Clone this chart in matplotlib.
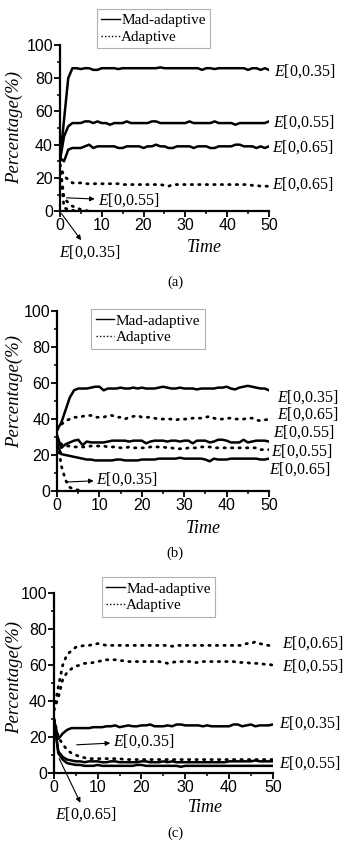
import matplotlib
matplotlib.use("Agg")
import matplotlib.pyplot as plt
from matplotlib.lines import Line2D
from matplotlib.ticker import MultipleLocator

plt.rcParams["mathtext.fontset"] = "custom"
plt.rcParams["mathtext.rm"] = "Liberation Serif"
plt.rcParams["mathtext.it"] = "Liberation Serif:italic"

time = list(range(51))

# ---- panel (a) ----
a_mad_35 = [30, 55, 80, 86, 86, 85.5, 86, 86, 85, 85, 86, 86, 86, 86, 85.5, 86, 86, 86, 86, 86, 86, 86, 86, 86, 86.5, 86,
            86, 86, 86, 86, 86, 86, 86, 86, 85, 86, 86, 85.5, 86, 86, 86, 86, 86, 86, 86, 85, 86, 86, 85, 86, 85]
a_mad_55 = [30, 45, 51, 53, 53, 53, 54, 54, 53, 54, 53, 53, 52, 53, 53, 53, 54, 53, 53, 53, 53, 53, 54, 54, 53, 53,
            53, 53, 53, 53, 53, 54, 53, 53, 53, 53, 53, 54, 53, 53, 53, 53, 52, 53, 53, 53, 53, 53, 53, 53, 54]
a_mad_65 = [32, 30, 37, 38, 38, 38, 39, 40, 38, 39, 39, 39, 39, 39, 38, 38, 39, 39, 39, 39, 38, 39, 39, 40, 39, 39,
            38, 38, 39, 39, 39, 39, 38, 39, 39, 39, 38, 38, 39, 39, 39, 39, 40, 40, 39, 39, 39, 38, 39, 38, 39]
a_ad_65 = [28, 21, 19, 17, 17, 17, 16.5, 16.5, 16.5, 16.5, 16.5, 16.5, 16.5, 16.5, 16.5, 16, 16, 16, 16, 16, 16, 16,
           16, 16, 16, 15.5, 15, 16, 16, 16, 16, 16, 16, 16, 16, 16, 16, 16, 16, 16, 16, 16, 16, 16, 16, 16, 15.5,
           15.5, 15, 15, 15]
# these two fall onto the x axis and stay there (hidden by the axis line)
a_ad_55 = [28, 8, 5, 3, 2, 1, 0.5, 0]
a_ad_35 = [28, 2, 1, 0.5, 0]

# ---- panel (b) ----
b_mad_35 = [34, 38, 45, 52, 56, 57, 57, 57, 57.5, 58, 58, 56, 57, 57, 57, 57.5, 57, 57, 57.5, 57, 57.5, 57, 57, 57,
            57.5, 58, 57.5, 57, 57, 57.5, 57, 57, 57, 56.5, 57, 57, 57, 57, 57.5, 57.5, 58, 57, 56.5, 57.5, 58, 58.5,
            58, 57.5, 57, 57, 56]
b_ad_65 = [34, 37, 39, 40, 41, 41, 41.5, 42, 42, 41, 41, 41, 42, 42, 41, 41, 40, 41, 41.5, 42, 41, 41, 41, 40.5, 40,
           40, 40, 40, 39.5, 40, 40, 40, 40.5, 40.5, 40.5, 41, 41.5, 40.5, 40, 40, 40.5, 40.5, 40, 40, 40, 40.5, 40.5,
           39.5, 39, 39.5, 40]
b_mad_55 = [31, 24, 26, 27, 28, 28.5, 25.5, 27.5, 27, 27, 27, 27, 27.5, 28, 28, 28, 28, 27.5, 28, 28, 28, 26.5, 27.5,
            28, 28, 28, 27.5, 28, 28, 27.5, 28, 28, 26.5, 28, 28, 28, 27, 27.5, 28.5, 28.5, 28, 27, 27, 27, 28.5, 27,
            27.5, 28, 28, 28, 27.5]
b_ad_55 = [30, 26, 25, 25, 24.5, 24.5, 24.5, 24.5, 25, 25, 25, 25, 24.5, 24.5, 24.5, 24, 24, 24.5, 24, 24, 24, 24,
           24.5, 24.5, 24.5, 24.5, 24, 24, 23.5, 23.5, 23.5, 24, 24, 24, 24.5, 24.5, 24.5, 24, 24, 24, 24, 24, 24, 24,
           24, 24, 24, 24, 23, 23, 23]
b_mad_65 = [26, 20.5, 20, 19.5, 19, 18.5, 18, 17.5, 17.5, 17, 17, 17, 17, 17, 17.5, 17.5, 17, 17, 17, 17, 17.5, 17.5,
            17.5, 17.5, 18, 18, 18, 18, 18, 18.5, 18, 18, 18, 18, 18, 17.5, 16.5, 18, 17.5, 17.5, 17.5, 18, 18, 18,
            18, 18, 18, 18, 17.5, 17.5, 18]
b_ad_35 = [30, 14, 6, 2, 1, 0.5, 0]

# ---- panel (c) ----
c_ad_65 = [35, 48, 60, 66, 68, 70, 70.5, 71, 71, 71.5, 72, 71.5, 71, 71, 71, 71, 71, 71, 71, 71, 71, 71, 71, 71, 71,
           71, 71, 70.5, 71, 71, 71, 71, 71, 71, 71, 71, 71, 71, 71, 71, 71, 71, 71, 71, 72, 72, 73, 72, 71.5, 71,
           70.5]
c_ad_55 = [35, 42, 52, 56, 58, 59.5, 60, 61, 61, 61.5, 62, 62.5, 63, 63, 63, 62.5, 62.5, 62, 62, 62, 62, 62, 62, 62,
           62, 61.5, 61, 61.5, 62, 62, 62, 62, 61.5, 61.5, 62, 62, 62, 62, 62, 62, 62, 62, 61.5, 61.5, 61.5, 61, 61,
           61, 60.5, 60.5, 60]
c_mad_35 = [30, 19, 22, 24, 25, 25, 25, 25, 25, 25.5, 25.5, 25.5, 26, 26, 26.5, 25.5, 26, 26.5, 26, 26, 26.5, 26.5,
            27, 26, 26, 26, 26.5, 26, 27, 27, 26.5, 26.5, 26.5, 26.5, 26, 26.5, 26, 26, 26, 26, 26, 27, 27, 26, 26.5,
            27, 26, 26.5, 26.5, 26.5, 27]
c_ad_35 = [30, 20, 16, 13, 11, 10, 9, 8.5, 8, 8, 8, 8, 8, 8, 8, 8, 7.5, 7.5, 7.5, 7.5, 7.5, 7.5, 7.5, 7.5, 7.5, 7.5,
           7.5, 7.5, 7.5, 7.5, 7.5, 7.5, 7.5, 7.5, 7.5, 7.5, 7.5, 7.5, 7.5, 7.5, 7.5, 7.5, 7.5, 7.5, 7.5, 7.5, 7.5,
           7.5, 7.5, 7.5, 7.5]
c_mad_55 = [30, 12, 9, 7.5, 7, 6.5, 6.5, 6, 6.5, 6.5, 6.5, 6, 6, 6.5, 6.5, 6, 6, 6, 6, 6, 6.5, 6.5, 6, 6, 6, 6.5, 6,
            6.5, 6, 6, 6, 6, 6, 6, 6, 6, 6, 6, 6, 6, 6.5, 6.5, 6.5, 6.5, 6.5, 6.5, 7, 6.5, 6.5, 6.5, 6.5]
c_mad_65 = [30, 11, 7.5, 5.5, 5, 4.5, 4.5, 4, 4, 4, 4.5, 4, 4, 4, 4, 4, 4, 4, 4, 4.5, 4.5, 4, 4, 4, 4, 4, 4, 4, 4,
            3.5, 4, 4, 4, 4, 4, 4, 4, 4, 4, 4, 4, 4, 4, 4, 4, 4, 4, 4, 4, 4, 4]

# right-hand curve labels: (text, x, y)
a_labels = [("0.35", 51.2, 84.5), ("0.55", 51.0, 53.7), ("0.65", 50.6, 38.6), ("0.65", 50.8, 16.5)]
b_labels = [("0.35", 52.0, 52.0), ("0.65", 52.0, 43.0), ("0.55", 51.0, 33.0), ("0.55", 50.5, 22.0),
            ("0.65", 50.0, 12.4)]
c_labels = [("0.65", 52.0, 72.0), ("0.55", 52.0, 59.6), ("0.35", 51.5, 27.8), ("0.55", 51.5, 5.6)]

# arrow annotations: (text, curve point, text position)
a_notes = [("0.55", (1.6, 8.0), (9.0, 6.5)), ("0.35", (0.4, -1.5), (-0.2, -24.5))]
b_notes = [("0.35", (2.4, 5.0), (9.3, 6.5))]
c_notes = [("0.35", (5.2, 15.7), (13.5, 17.6)), ("0.65", (1.2, 8.0), (0.3, -23.0))]

serif = "Liberation Serif"


def elabel(v):
    return r"$E$[0," + v + "]"


def draw_panel(ax, solid, dotted, labels, notes, leg_anchor, time_y):
    for s in solid:
        ax.plot(time[:len(s)], s, color="black", lw=1.8, solid_joinstyle="round")
    for s in dotted:
        ax.plot(time[:len(s)], s, color="black", lw=2.0, linestyle=(0, (0.5, 2.2)),
                dash_capstyle="round")
    ax.set_xlim(0, 50)
    ax.set_ylim(0, 100)
    ax.spines["top"].set_visible(False)
    ax.spines["right"].set_visible(False)
    for sp in ("left", "bottom"):
        ax.spines[sp].set_linewidth(1.6)
    ax.xaxis.set_major_locator(MultipleLocator(10))
    ax.xaxis.set_minor_locator(MultipleLocator(5))
    ax.yaxis.set_major_locator(MultipleLocator(20))
    ax.yaxis.set_minor_locator(MultipleLocator(10))
    ax.tick_params(which="major", direction="out", length=4, width=1.3,
                   labelsize=11.5, pad=1)
    ax.tick_params(which="minor", direction="out", length=2.5, width=1.1)
    for t in ax.get_xticklabels() + ax.get_yticklabels():
        t.set_fontfamily("Liberation Sans")

    for v, x, y in labels:
        ax.text(x, y, elabel(v), fontsize=11.5, family=serif, va="center",
                ha="left", clip_on=False)
    for v, pt, tp in notes:
        ax.annotate(elabel(v), xy=pt, xytext=tp, fontsize=11.5, family=serif,
                    va="center", ha="left", annotation_clip=False,
                    arrowprops=dict(arrowstyle="<|-", color="black", lw=0.8,
                                    mutation_scale=7, shrinkA=0, shrinkB=0))

    ax.text(0.69, time_y, "Time", transform=ax.transAxes, fontsize=13,
            family=serif, style="italic", ha="center", va="center")

    handles = [Line2D([], [], color="black", lw=1.0),
               Line2D([], [], color="black", lw=1.0, linestyle=(0, (1, 1.5)))]
    leg = ax.legend(handles, ["Mad-adaptive", "Adaptive"], loc="upper left",
                    bbox_to_anchor=leg_anchor, borderaxespad=0,
                    handlelength=1.2, handletextpad=0.1, labelspacing=0.2,
                    borderpad=0.3, fancybox=False, framealpha=1,
                    prop={"family": serif, "size": 11})
    leg.get_frame().set_edgecolor("#b0b0b0")
    leg.get_frame().set_linewidth(0.8)


fig = plt.figure(figsize=(3.48, 8.48), dpi=100)

ax_a = fig.add_axes([0.172, 0.751, 0.601, 0.196])
draw_panel(ax_a, [a_mad_35, a_mad_55, a_mad_65], [a_ad_65, a_ad_55, a_ad_35],
           a_labels, a_notes, (0.177, 1.217), -0.217)

ax_b = fig.add_axes([0.164, 0.421, 0.609, 0.212])
draw_panel(ax_b, [b_mad_35, b_mad_55, b_mad_65], [b_ad_65, b_ad_55, b_ad_35],
           b_labels, b_notes, (0.16, 1.011), -0.206)

ax_c = fig.add_axes([0.155, 0.0884, 0.629, 0.212])
draw_panel(ax_c, [c_mad_35, c_mad_55, c_mad_65], [c_ad_65, c_ad_55, c_ad_35],
           c_labels, c_notes, (0.219, 1.089), -0.194)

# y labels and captions
for yc in (1 - 128 / 848, 1 - 392 / 848, 1 - 677 / 848):
    fig.text(14 / 348, yc, "Percentage(%)", rotation=90, fontsize=13.5,
             family=serif, style="italic", ha="center", va="center")
for cap, yc in (("(a)", 1 - 282 / 848), ("(b)", 1 - 553 / 848), ("(c)", 1 - 833 / 848)):
    fig.text(175 / 348, yc, cap, fontsize=10.5, family=serif, ha="center", va="center")

fig.savefig("out.png", dpi=100)
